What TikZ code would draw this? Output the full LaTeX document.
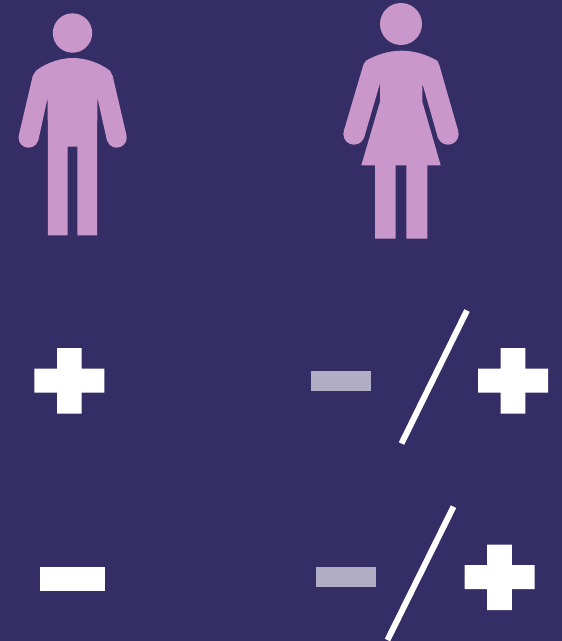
\documentclass[tikz,border=0pt]{standalone}
\definecolor{bgc}{HTML}{352E66}
\definecolor{fig}{HTML}{C997C9}
\definecolor{pale}{HTML}{B0ADC5}
\tikzset{figure/.style={fill=fig,draw=none},
  mark plus/.style={fill=white,draw=none},
  slash/.style={draw=white,line width=6pt},
  palebar/.style={fill=pale,draw=none},
  whitebar/.style={fill=white,draw=none}}
\newcommand{\plusat}[2]{\fill[mark plus,shift={(#1,#2)}] (22.7,0) -- (47.3,0) -- (47.3,20.5) -- (70,20.5) -- (70,44.5) -- (47.3,44.5) -- (47.3,65.5) -- (22.7,65.5) -- (22.7,44.5) -- (0,44.5) -- (0,20.5) -- (22.7,20.5) -- cycle;}
\begin{document}
\begin{tikzpicture}[x=1pt,y=-1pt]
\useasboundingbox (0,0) rectangle (562,641);
\fill[bgc] (0,0) rectangle (562,641);
% man
\fill[figure] (72.5,33) circle[radius=19.7pt];
\fill[figure] (28.5,137.7) circle[radius=10pt];
\fill[figure] (116.7,137.7) circle[radius=10pt];
\fill[figure] (32.7,76) -- (36,70.7) .. controls (46,63) and (60,58) .. (72.7,58) .. controls (86,58) and (100,63) .. (110,70.7) -- (112.7,76) -- (126.4,135) -- (107,140.5) -- (97.3,97.3) -- (97,235.3) -- (77.3,235.3) -- (77.3,146.7) -- (67.7,146.7) -- (67.7,235.3) -- (48,235.3) -- (47.7,97.3) -- (38.3,140.5) -- (18.9,135) -- cycle;
% woman
\fill[figure] (401,24) circle[radius=21pt];
\fill[figure] (354,134) circle[radius=10.7pt];
\fill[figure] (448,134) circle[radius=10.7pt];
\fill[figure] (363.3,65) -- (366,60.7) .. controls (376,55) and (388,50.7) .. (401.5,50.7) .. controls (415,50.7) and (427,55) .. (437.3,60.7) -- (439.3,65) -- (458.2,131) -- (438,138) -- (422.3,83.3) -- (422.3,101.7) -- (440.7,165.3) -- (427.3,165.3) -- (427.3,238.7) -- (406.3,238.7) -- (406.3,165.3) -- (395.7,165.3) -- (395.7,238.7) -- (375,238.7) -- (375,165.3) -- (361.3,165.3) -- (380,101.7) -- (380,83.3) -- (364,138) -- (343.8,131) -- cycle;
% marks
\plusat{34.3}{348}
\plusat{478}{348}
\plusat{464.5}{544.5}
\fill[palebar] (311,371) rectangle (371,390.7);
\fill[palebar] (316,567) rectangle (376,586.7);
\fill[whitebar] (40,567) rectangle (105,591);
\coordinate (s1a) at (401.5,443.5);
\coordinate (s1b) at (467,310.5);
\coordinate (s2a) at (387.5,640);
\coordinate (s2b) at (453.5,506.7);
\draw[slash] (s1a) -- (s1b);
\draw[slash] (s2a) -- (s2b);
\end{tikzpicture}
\end{document}
